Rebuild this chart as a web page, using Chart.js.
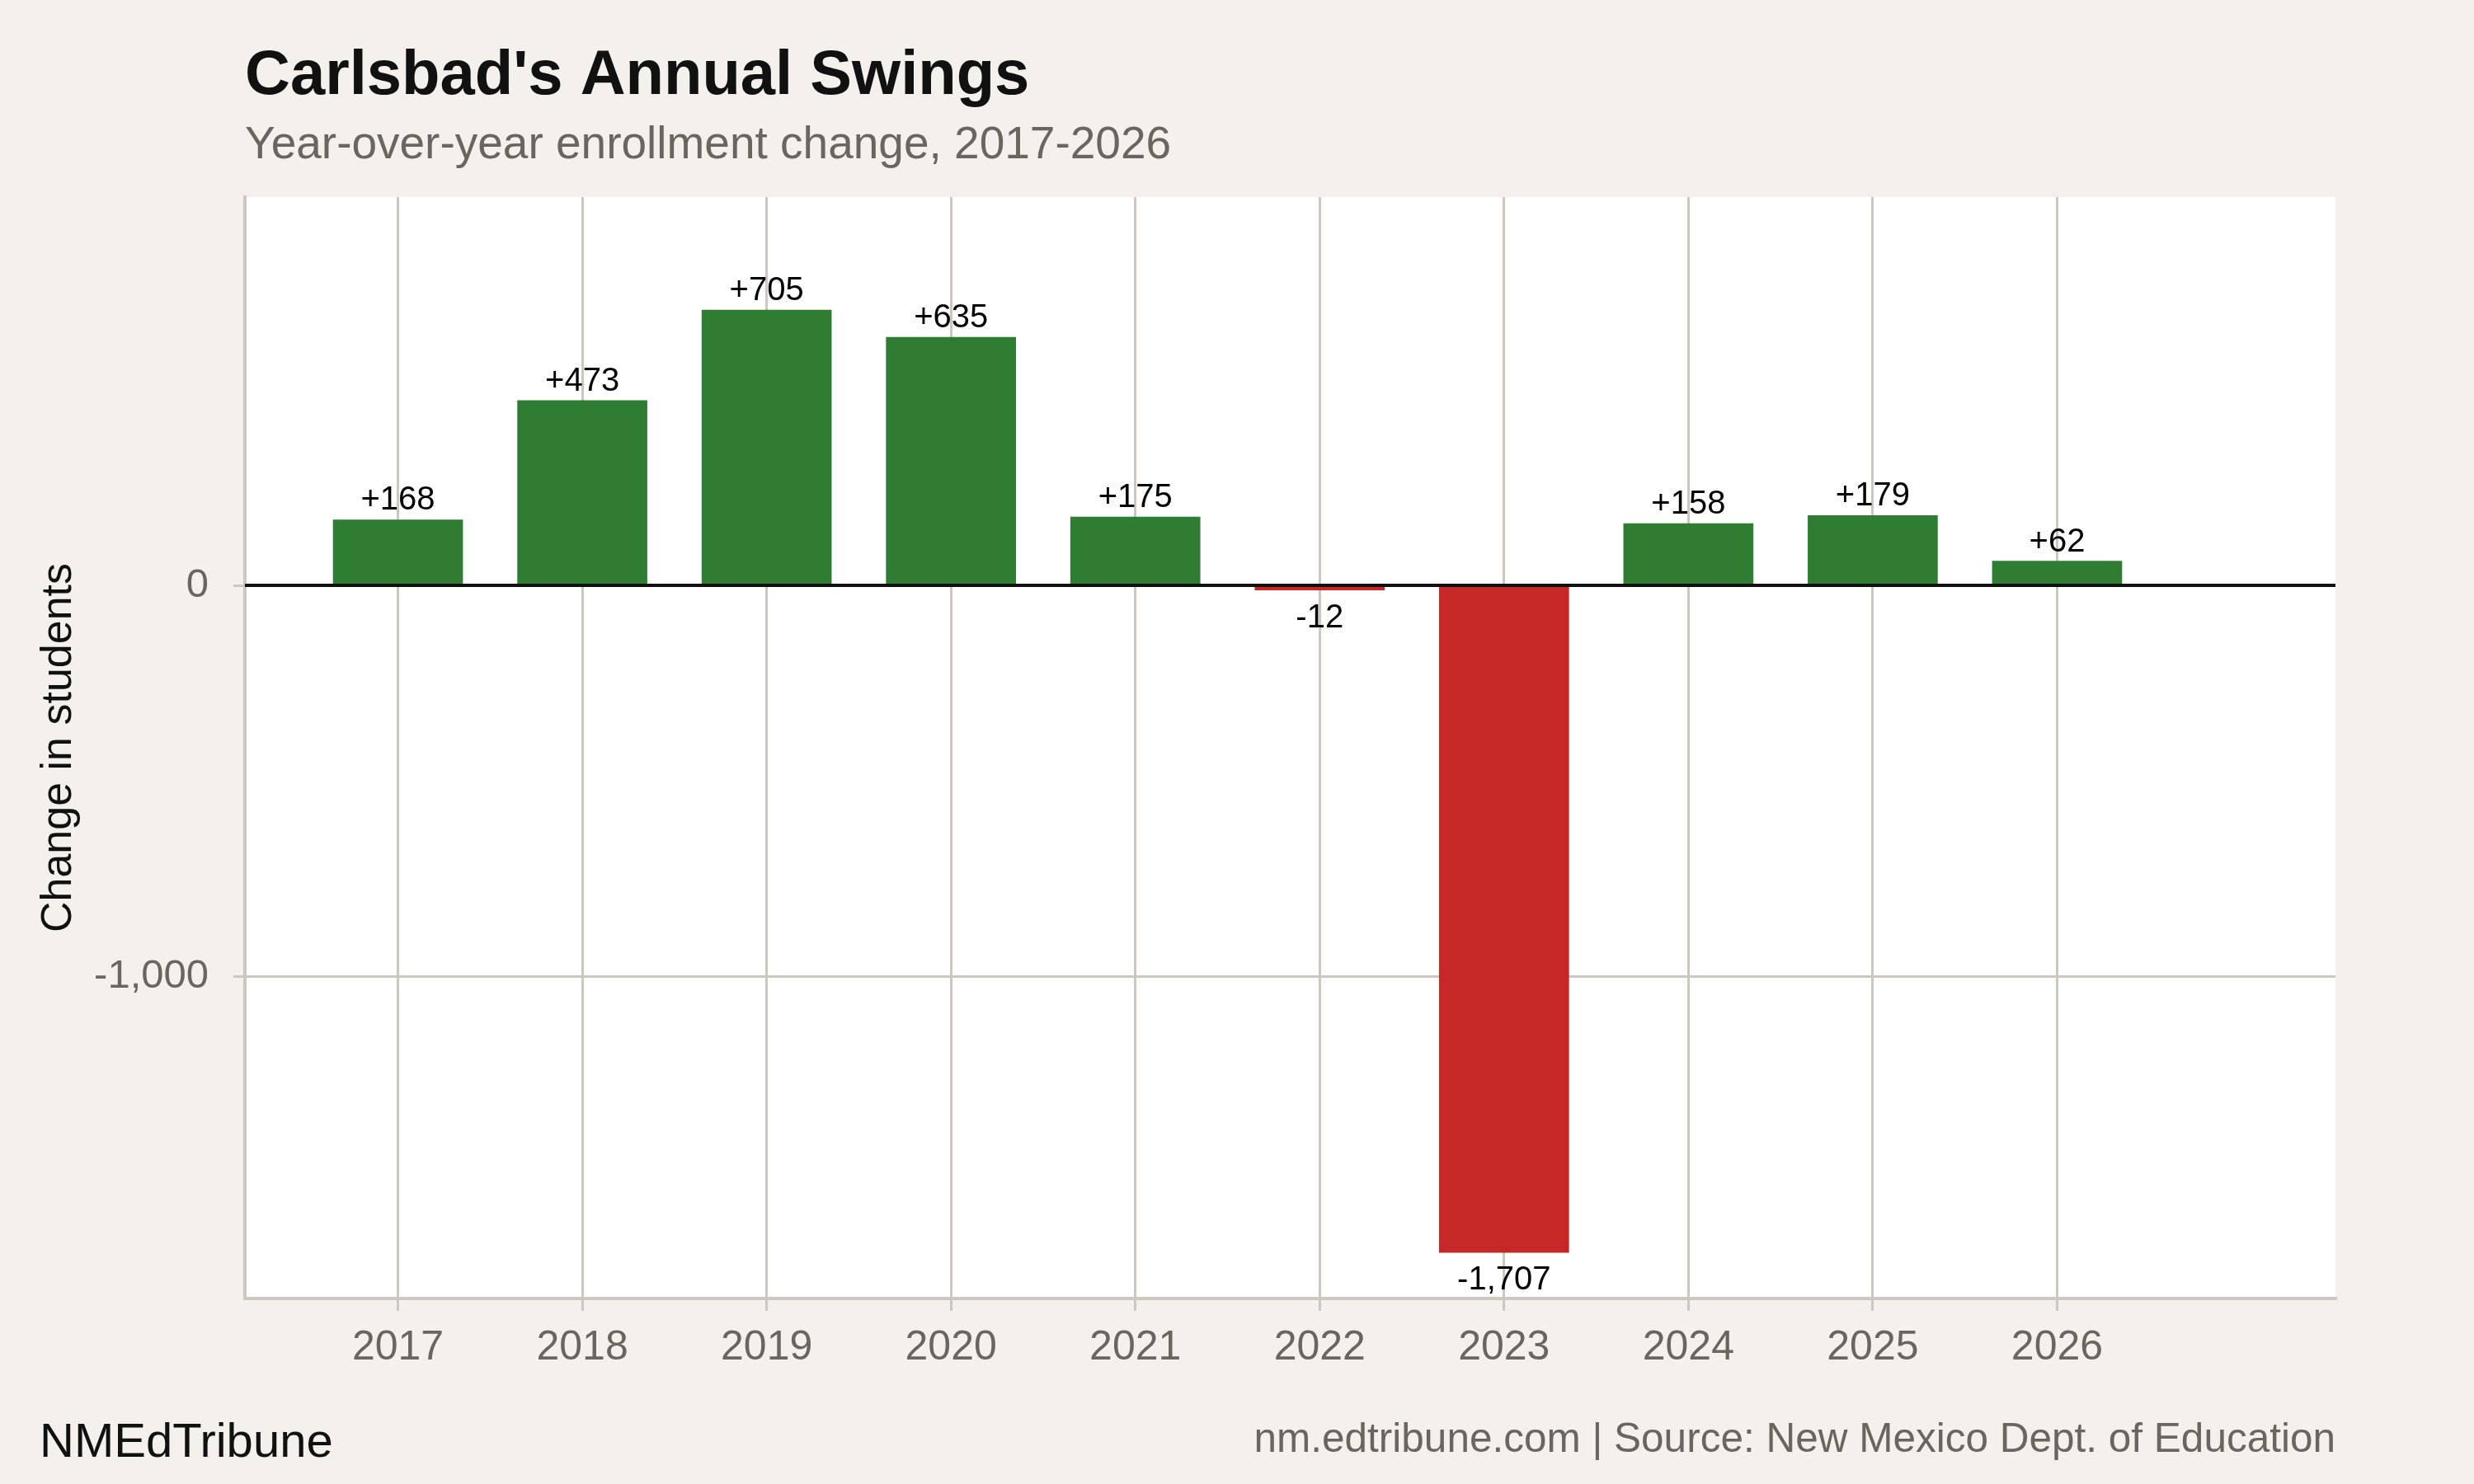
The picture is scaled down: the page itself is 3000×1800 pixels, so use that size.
<!DOCTYPE html>
<html>
<head>
<meta charset="utf-8">
<script src="https://cdn.jsdelivr.net/npm/chart.js@4.4.1/dist/chart.umd.min.js"></script>
<style>
  html, body { margin: 0; padding: 0; background: #F4F1EC; }
  canvas { display: block; }
</style>
</head>
<body>
<canvas id="chart" width="3000" height="1800"></canvas>
<script>
// data
const years = [2017, 2018, 2019, 2020, 2021, 2022, 2023, 2024, 2025, 2026];
const changes = [168, 473, 705, 635, 175, -12, -1707, 158, 179, 62];
const yTicks = [0, -1000];

const GREEN = '#2E7D32';
const RED = '#C62828';
const GRID = '#CDC8BF';
const BG = '#F4F1EC';
const GREY = '#6A655F';
const FONT = "'Liberation Sans', Arial, sans-serif";

const fmt = v => Math.abs(v).toLocaleString('en-US');

// page background + white panel
const backgroundPlugin = {
  id: 'backgroundPlugin',
  beforeDraw(chart) {
    const { ctx, chartArea: { left, top, width, height } } = chart;
    ctx.save();
    ctx.fillStyle = BG;
    ctx.fillRect(0, 0, chart.width, chart.height);
    ctx.fillStyle = '#FFFFFF';
    ctx.fillRect(left, top, width, height);
    ctx.restore();
  }
};

// zero line + value labels
const labelPlugin = {
  id: 'labelPlugin',
  afterDatasetsDraw(chart) {
    const { ctx, chartArea: { left, right }, scales: { y } } = chart;
    ctx.save();
    const y0 = y.getPixelForValue(0);
    ctx.strokeStyle = '#111111';
    ctx.lineWidth = 4;
    ctx.beginPath();
    ctx.moveTo(left, y0);
    ctx.lineTo(right, y0);
    ctx.stroke();

    ctx.font = `40px ${FONT}`;
    ctx.fillStyle = '#000000';
    ctx.textAlign = 'center';
    ctx.textBaseline = 'alphabetic';
    chart.getDatasetMeta(0).data.forEach((bar, i) => {
      const v = changes[i];
      if (v >= 0) {
        ctx.fillText('+' + fmt(v), bar.x, bar.y - 12);
      } else {
        ctx.fillText('-' + fmt(v), bar.x, bar.y + 45);
      }
    });
    ctx.restore();
  },
  afterDraw(chart) {
    const { ctx, chartArea: { left, right } } = chart;
    ctx.save();
    ctx.textAlign = 'left';
    ctx.textBaseline = 'alphabetic';
    ctx.fillStyle = '#111111';
    ctx.font = `bold 76px ${FONT}`;
    ctx.fillText("Carlsbad's Annual Swings", left, 114);
    ctx.fillStyle = GREY;
    ctx.font = `55px ${FONT}`;
    ctx.fillText('Year-over-year enrollment change, 2017-2026', left, 192);

    ctx.fillStyle = '#111111';
    ctx.font = `58px ${FONT}`;
    ctx.fillText('NMEdTribune', 48, 1767);
    ctx.textAlign = 'right';
    ctx.fillStyle = GREY;
    ctx.font = `49.5px ${FONT}`;
    ctx.fillText('nm.edtribune.com | Source: New Mexico Dept. of Education', right, 1761);
    ctx.restore();
  }
};

const data = {
  datasets: [{
    data: years.map((yr, i) => ({ x: yr, y: changes[i] })),
    backgroundColor: changes.map(v => v >= 0 ? GREEN : RED),
    borderWidth: 0,
    barThickness: 157
  }]
};

const config = {
  type: 'bar',
  data,
  options: {
    responsive: false,
    devicePixelRatio: 1,
    animation: false,
    layout: { padding: { top: 239, right: 168, left: 0, bottom: 0 } },
    plugins: {
      legend: { display: false },
      tooltip: { enabled: false }
    },
    scales: {
      x: {
        type: 'linear',
        min: 2016.17,
        max: 2027.51,
        offset: false,
        afterFit: s => { s.height = 225; },
        afterBuildTicks: s => { s.ticks = years.map(v => ({ value: v })); },
        grid: {
          offset: false,
          color: GRID,
          lineWidth: 3,
          drawTicks: true,
          tickLength: 15,
          tickColor: GRID,
          tickWidth: 3
        },
        border: { display: true, color: GRID, width: 4 },
        ticks: {
          padding: 15,
          color: GREY,
          font: { family: FONT, size: 50 },
          maxRotation: 0,
          autoSkip: false,
          callback: v => String(v)
        }
      },
      y: {
        min: -1825,
        max: 994,
        afterFit: s => { s.width = 297; },
        afterBuildTicks: s => { s.ticks = yTicks.map(v => ({ value: v })); },
        grid: {
          color: ctx => ctx.tick && ctx.tick.value === 0 ? 'rgba(0,0,0,0)' : GRID,
          lineWidth: 3,
          drawTicks: true,
          tickLength: 14,
          tickColor: GRID,
          tickWidth: 3
        },
        border: { display: true, color: GRID, width: 4 },
        ticks: {
          padding: 30,
          color: GREY,
          font: { family: FONT, size: 49 },
          callback: v => (v < 0 ? '-' : '') + fmt(v)
        },
        title: {
          display: true,
          text: 'Change in students',
          color: '#111111',
          font: { family: FONT, size: 52 },
          padding: { top: 40, bottom: 0 }
        }
      }
    }
  },
  plugins: [backgroundPlugin, labelPlugin]
};

const chart = new Chart(document.getElementById('chart'), config);
</script>
</body>
</html>
